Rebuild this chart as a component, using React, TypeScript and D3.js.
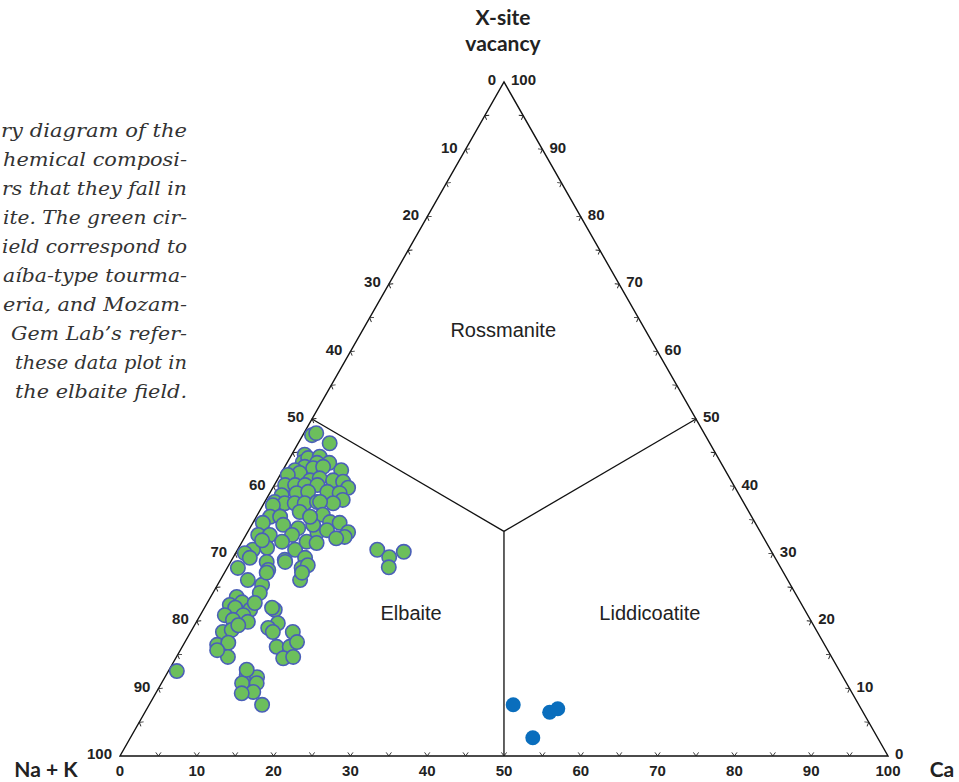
import React from "react";
import * as d3 from "d3";

// Axis tick values
const majorTicks = [0, 10, 20, 30, 40, 50, 60, 70, 80, 90, 100];
const minorTicks = [5, 10, 15, 20, 25, 30, 35, 40, 45, 50, 55, 60, 65, 70, 75, 80, 85, 90, 95];

// Field names and their [Ca, X-site vacancy] label positions
const fieldNames = ["Rossmanite", "Elbaite", "Liddicoatite"];
const fieldLabelPos: [number, number][] = [[18.3, 63.2], [27.3, 21.2], [58.4, 21.2]];

// Field boundary vertices [Ca, vacancy]
const fieldCenter: [number, number] = [33.33, 33.33];
const fieldEnds: [number, number][] = [[0, 50], [50, 50], [50, 0]];

// Cu-bearing Paraíba-type tourmalines: [Ca, X-site vacancy] (Na+K = 100 - Ca - vac)
const greenPoints: [number, number][] = [
  [1.2, 47.6], [1.6, 47.9], [4.1, 46.4], [1.7, 44.7], [2.0, 43.6], [2.4, 44.2], [3.8, 44.4],
  [3.9, 43.5], [5.5, 43.5], [7.6, 42.4], [2.6, 42.9], [3.8, 42.7], [5.0, 42.9], [1.6, 42.4],
  [2.4, 42.0], [1.0, 41.7], [4.3, 40.9], [5.4, 41.2], [7.3, 40.9], [8.7, 40.7], [9.8, 39.8],
  [1.4, 40.2], [2.7, 40.2], [4.0, 40.2], [5.6, 40.2], [3.5, 39.0], [4.9, 39.2], [7.4, 39.2],
  [9.1, 39.0], [10.0, 38.0], [1.7, 38.7], [1.3, 37.7], [2.7, 37.5], [4.0, 37.5], [5.3, 37.5],
  [6.8, 37.7], [9.0, 37.5], [1.3, 37.2], [7.2, 37.7], [1.8, 35.5], [3.1, 35.5], [1.3, 34.6],
  [4.1, 34.3], [1.6, 32.8], [3.1, 32.8], [6.3, 33.8], [6.0, 32.8], [5.2, 31.8], [3.7, 30.9],
  [2.0, 30.6], [1.2, 30.1], [2.2, 29.4], [7.5, 30.6], [8.4, 31.8], [9.1, 33.2], [8.0, 34.3],
  [8.5, 35.8], [10.0, 34.7], [11.3, 34.6], [10.2, 33.5], [13.1, 33.2], [13.0, 32.5], [9.8, 31.6],
  [9.4, 29.4], [6.9, 29.1], [4.7, 28.8], [1.4, 27.9], [5.5, 27.6], [9.7, 27.9], [10.3, 28.3],
  [3.6, 26.1], [5.8, 25.4], [10.4, 26.1], [5.5, 27.2], [6.1, 24.2], [3.4, 23.6], [4.5, 22.8],
  [3.1, 22.4], [4.0, 22.0], [6.1, 21.7], [6.2, 22.7], [3.2, 20.9], [5.6, 20.9], [4.6, 20.2],
  [6.7, 19.9], [4.2, 18.4], [5.2, 18.7], [5.7, 19.4], [4.4, 16.5], [5.7, 16.8], [6.7, 14.7],
  [9.3, 21.7], [8.8, 22.0], [10.7, 19.7], [9.8, 19.0], [10.7, 18.4], [13.3, 18.4], [12.3, 16.2],
  [14.0, 16.2], [14.6, 16.9], [14.0, 14.5], [15.2, 14.7], [1.1, 12.6], [10.5, 12.0], [12.0, 11.7],
  [10.5, 10.8], [12.4, 10.8], [12.6, 9.5], [11.2, 9.3], [14.7, 7.6], [18.2, 30.6], [20.3, 29.5],
  [21.8, 30.3], [21.0, 28.0], [7.1, 28.8], [10.1, 27.2], [10.1, 12.8], [4.8, 15.7], [5.3, 36.2],
  [7.0, 35.5], [12.0, 32.3], [2.5, 32.0],
];

// GIA reference collection samples: [Ca, X-site vacancy]
const bluePoints: [number, number][] = [[47.4, 7.6], [52.7, 6.5], [53.5, 7.0], [52.4, 2.7]];

// Caption fragments visible in the figure (text runs off the left edge)
const captionLines = [
  "ry diagram of the",
  "hemical composi-",
  "rs that they fall in",
  "ite. The green cir-",
  "ield correspond to",
  "aíba-type tourma-",
  "eria, and Mozam-",
  "Gem Lab’s refer-",
  "these data plot in",
  "the elbaite field.",
];
const captionWidths = [186, 184, 185, 184, 185, 184, 184, 176, 172, 172];

const W = 959;
const H = 782;

export default function App() {
  const xs = d3.scaleLinear().domain([0, 100]).range([120, 888]);
  const ys = d3.scaleLinear().domain([0, 100]).range([756, 82]);
  const proj = (ca: number, vac: number): [number, number] => [xs(ca + vac / 2), ys(vac)];

  const BL = proj(0, 0);
  const BR = proj(100, 0);
  const TOP = proj(0, 100);
  const tri = d3.line()([BL, BR, TOP, BL]) + "Z";

  const center = proj(fieldCenter[0], fieldCenter[1]);

  const ang = (a: [number, number], b: [number, number]) =>
    (Math.atan2(b[1] - a[1], b[0] - a[0]) * 180) / Math.PI;
  const angBottom = ang(BL, BR);
  const angRight = ang(BR, TOP);
  const angLeft = ang(TOP, BL);
  const chevron = "M-2.6,-3.6L0,0L2.6,-3.6";

  const tickFont = "'Liberation Sans Narrow', 'Arial Narrow', sans-serif";
  const titleFont = "Lato, 'Open Sans', sans-serif";

  return (
    <svg
      width={W}
      height={H}
      style={{ position: "absolute", left: 0, top: 0, background: "#fff" }}
    >
      {/* caption */}
      <g fontFamily="'DejaVu Serif', serif" fontStyle="italic" fontSize={19} fill="#333">
        {captionLines.map((t, i) => (
          <text
            key={i}
            x={187}
            y={137 + i * 29}
            textAnchor="end"
            textLength={captionWidths[i]}
            lengthAdjust="spacingAndGlyphs"
          >
            {t}
          </text>
        ))}
      </g>

      {/* triangle and field boundaries */}
      <path d={tri} fill="none" stroke="#111" strokeWidth={1.4} />
      {fieldEnds.map((e, i) => {
        const p = proj(e[0], e[1]);
        return (
          <line key={i} x1={center[0]} y1={center[1]} x2={p[0]} y2={p[1]} stroke="#111" strokeWidth={1.3} />
        );
      })}

      {/* chevron ticks */}
      <g fill="none" stroke="#222" strokeWidth={0.9}>
        {minorTicks.map((t) => {
          const p = proj(t, 0);
          return <path key={"b" + t} d={chevron} transform={`translate(${p[0]},${p[1]}) rotate(${angBottom})`} />;
        })}
        {minorTicks.map((t) => {
          const p = proj(100 - t, t);
          return <path key={"r" + t} d={chevron} transform={`translate(${p[0]},${p[1]}) rotate(${angRight})`} />;
        })}
        {minorTicks.map((t) => {
          const p = proj(0, 100 - t);
          return <path key={"l" + t} d={chevron} transform={`translate(${p[0]},${p[1]}) rotate(${angLeft})`} />;
        })}
      </g>

      {/* tick labels */}
      <g fontFamily={tickFont} fontWeight="bold" fontSize={15} fill="#222">
        {majorTicks.map((t) => {
          const p = proj(t, 0);
          return (
            <text key={"bl" + t} x={p[0]} y={776} textAnchor="middle">
              {t}
            </text>
          );
        })}
        {majorTicks.map((t) => {
          const p = proj(0, 100 - t);
          return (
            <text key={"ll" + t} x={p[0] - 8} y={p[1] - 2} dy="0.35em" textAnchor="end">
              {t}
            </text>
          );
        })}
        {majorTicks.map((t) => {
          const p = proj(100 - t, t);
          return (
            <text key={"rl" + t} x={p[0] + 7} y={p[1] - 2} dy="0.35em" textAnchor="start">
              {t}
            </text>
          );
        })}
      </g>

      {/* field names */}
      <g fontFamily="'Liberation Sans', Arial, sans-serif" fontSize={20} fill="#222">
        {fieldNames.map((n, i) => {
          const p = proj(fieldLabelPos[i][0], fieldLabelPos[i][1]);
          return (
            <text key={n} x={p[0]} y={p[1]} dy="0.35em" textAnchor="middle">
              {n}
            </text>
          );
        })}
      </g>

      {/* data points */}
      <g>
        {greenPoints.map((d, i) => {
          const p = proj(d[0], d[1]);
          return <circle key={"g" + i} cx={p[0]} cy={p[1]} r={7.2} fill="#6cbf5c" stroke="#4a5fb8" strokeWidth={1.6} />;
        })}
        {bluePoints.map((d, i) => {
          const p = proj(d[0], d[1]);
          return <circle key={"bp" + i} cx={p[0]} cy={p[1]} r={7.5} fill="#0a6ebd" />;
        })}
      </g>

      {/* corner titles */}
      <g fontFamily={titleFont} fontWeight="bold" fill="#222">
        <text x={503} y={25} fontSize={21} textAnchor="middle">X-site</text>
        <text x={503} y={51} fontSize={21} textAnchor="middle">vacancy</text>
        <text x={46} y={777} fontSize={21} textAnchor="middle">Na + K</text>
        <text x={942} y={777} fontSize={21} textAnchor="middle">Ca</text>
      </g>
    </svg>
  );
}
